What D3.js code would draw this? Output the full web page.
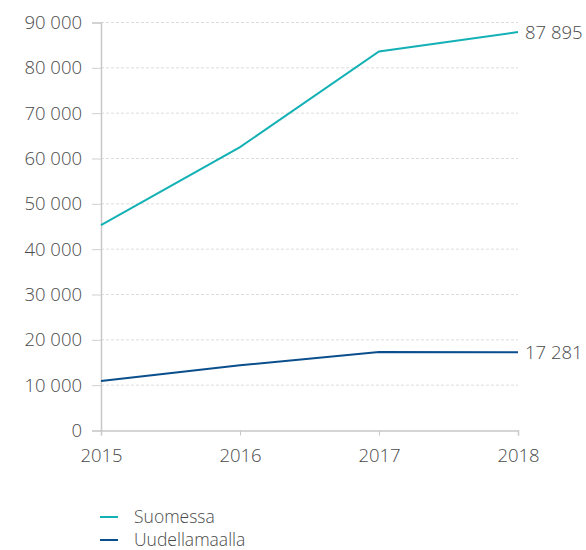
<!DOCTYPE html>
<html>
<head>
<meta charset="utf-8">
<script src="https://cdn.jsdelivr.net/npm/d3@7"></script>
<style>
  body { margin: 0; background: #fff; }
  text { font-family: "Open Sans", sans-serif; }
</style>
</head>
<body>
<div id="chart-container"></div>
<script>
const years = [2015, 2016, 2017, 2018];
const suomessa = [45300, 62500, 83600, 87895];
const uudellamaalla = [10900, 14400, 17300, 17281];
const seriesNames = ["Suomessa", "Uudellamaalla"];
const yTicks = [0, 10000, 20000, 30000, 40000, 50000, 60000, 70000, 80000, 90000];

const width = 586, height = 550;
const colors = ["#13b1b5", "#0b4e8c"];
const fontSize = "18.5px";
const textColor = "#4a4a4a";
const fmt = v => d3.format(",")(v).replace(/,/g, " ");

const svg = d3.select("#chart-container")
  .append("svg")
    .attr("width", width)
    .attr("height", height);

const x = d3.scaleLinear().domain([2015, 2018]).range([101, 518]);
const y = d3.scaleLinear().domain([0, 90000]).range([430.5, 22.5]);

// horizontal gridlines
svg.selectAll("yGrid")
  .data(yTicks.slice(1))
  .join("line")
  .attr("x1", x(2015))
  .attr("x2", x(2018))
  .attr("y1", d => y(d))
  .attr("y2", d => y(d))
  .attr("stroke", "#dcdcdc")
  .attr("stroke-width", 1)
  .attr("stroke-dasharray", "3,2");

// y axis
const yAxis = svg.append("g")
  .attr("transform", `translate(${x(2015)},0)`)
  .call(d3.axisLeft(y).tickValues(yTicks).tickFormat(fmt).tickSize(9).tickPadding(10));
yAxis.select(".domain").attr("stroke", "#c8c8c8").attr("stroke-width", 1.5);
yAxis.selectAll(".tick line").attr("stroke", "#d0d0d0");
yAxis.selectAll(".tick text")
  .style("font-size", fontSize)
  .style("font-weight", 300)
  .attr("fill", textColor);

// x axis
const xAxis = svg.append("g")
  .attr("transform", `translate(0,${y(0)})`)
  .call(d3.axisBottom(x).tickValues(years).tickFormat(d3.format("d")).tickSize(5).tickSizeOuter(5).tickPadding(13));
xAxis.select(".domain").attr("stroke", "#c8c8c8").attr("stroke-width", 1.5);
xAxis.selectAll(".tick line").attr("stroke", "#c8c8c8");
xAxis.selectAll(".tick text")
  .style("font-size", fontSize)
  .style("font-weight", 300)
  .attr("fill", textColor);

const line = d3.line()
  .x((d, i) => x(years[i]))
  .y(d => y(d));

[suomessa, uudellamaalla].forEach((data, k) => {
  svg.append("path")
    .datum(data)
    .attr("fill", "none")
    .attr("stroke", colors[k])
    .attr("stroke-width", 2)
    .attr("d", line);

  const last = data[data.length - 1];
  svg.append("text")
    .attr("x", x(2018) + 7)
    .attr("y", y(last))
    .attr("dy", "0.35em")
    .style("font-size", fontSize)
    .style("font-weight", 300)
    .attr("fill", textColor)
    .text(fmt(last));
});

// legend
const legend = svg.append("g")
  .attr("transform", "translate(100,517)");
seriesNames.forEach((name, i) => {
  legend.append("line")
    .attr("x1", 0).attr("x2", 18)
    .attr("y1", i * 23).attr("y2", i * 23)
    .attr("stroke", colors[i])
    .attr("stroke-width", 2);
  legend.append("text")
    .attr("x", 34)
    .attr("y", i * 23)
    .attr("dy", "0.35em")
    .style("font-size", "17.5px")
    .style("font-weight", 300)
    .attr("fill", textColor)
    .text(name);
});
</script>
</body>
</html>
